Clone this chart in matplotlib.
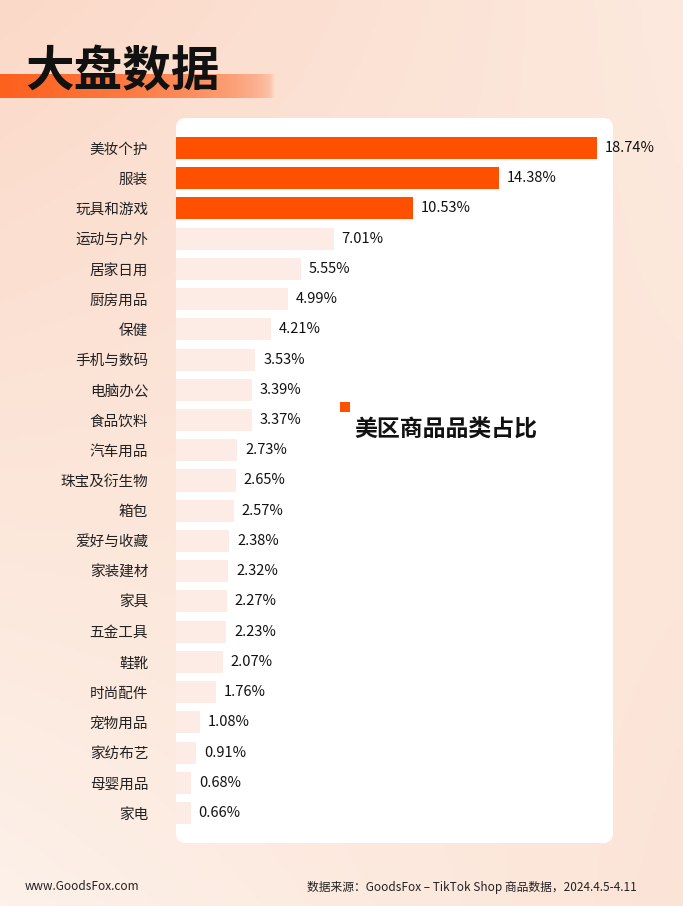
import numpy as np
import matplotlib.pyplot as plt
from matplotlib.patches import FancyBboxPatch, Rectangle
from matplotlib.colors import LinearSegmentedColormap

plt.rcParams['font.family'] = ['Noto Sans CJK SC', 'DejaVu Sans']

categories = ['美妆个护', '服装', '玩具和游戏', '运动与户外', '居家日用', '厨房用品', '保健',
              '手机与数码', '电脑办公', '食品饮料', '汽车用品', '珠宝及衍生物', '箱包',
              '爱好与收藏', '家装建材', '家具', '五金工具', '鞋靴', '时尚配件', '宠物用品',
              '家纺布艺', '母婴用品', '家电']
values = [18.74, 14.38, 10.53, 7.01, 5.55, 4.99, 4.21, 3.53, 3.39, 3.37, 2.73, 2.65, 2.57,
          2.38, 2.32, 2.27, 2.23, 2.07, 1.76, 1.08, 0.91, 0.68, 0.66]

W, H = 683, 906
fig = plt.figure(figsize=(W / 100, H / 100), dpi=100)

# background gradient
bg = fig.add_axes([0, 0, 1, 1])
bg.set_axis_off()
yy, xx = np.mgrid[0:1:200j, 0:1:200j]
g = np.clip(0.6 * (1 - xx) * yy + 0.5 * xx * (1 - yy) + 0.3 * yy, 0, 1)
cmap = LinearSegmentedColormap.from_list('bg', ['#fdf1e9', '#fbd9c8'])
bg.imshow(g, cmap=cmap, extent=[0, W, 0, H], aspect='auto', origin='upper')
bg.set_xlim(0, W)
bg.set_ylim(H, 0)

# title band
band = np.linspace(1, 0, 100).reshape(1, -1)
ocmap = LinearSegmentedColormap.from_list('o', ['#fbd9c8', '#ff5a14'])
bg.imshow(band ** 0.4, cmap=ocmap, extent=[0, 275, 98, 74], aspect='auto', alpha=0.95)
bg.set_xlim(0, W)
bg.set_ylim(H, 0)
bg.text(25, 72, '大盘数据', fontsize=35, fontweight='bold', color='#111111', va='center')

# white panel
bg.add_patch(FancyBboxPatch((176, 118), 437, 725, boxstyle='round,pad=0,rounding_size=10',
                            fc='white', ec='none'))

# legend
bg.add_patch(Rectangle((340, 402), 10, 10, fc='#ff5000', ec='none'))
bg.text(354, 430, '美区商品品类占比', fontsize=16.5, fontweight='bold', color='#111111', va='center')

# footer
bg.text(25, 887, 'www.GoodsFox.com', fontsize=8.5, color='#222222', va='center')
bg.text(637, 887, '数据来源：GoodsFox – TikTok Shop 商品数据，2024.4.5-4.11', fontsize=8.5,
        color='#222222', va='center', ha='right')

# chart
ax = fig.add_axes([176 / W, 1 - 843 / H, 437 / W, 725 / H])
ax.patch.set_alpha(0)
colors = ['#ff5000' if i < 3 else '#fdebe5' for i in range(len(values))]
ypos = np.arange(len(values))
ax.barh(ypos, values, height=0.73, color=colors)
ax.set_xlim(0, 437 / 22.47)
ax.set_ylim(len(values) - 1 + 0.99, -0.99)
for y, v in zip(ypos, values):
    ax.text(v + 0.35, y, f'{v:.2f}%', va='center', fontsize=10.5, color='#111111')
ax.set_yticks(ypos)
ax.set_yticklabels(categories, fontsize=10.5, color='#222222')
ax.tick_params(axis='y', length=0, pad=20)
ax.set_xticks([])
for s in ax.spines.values():
    s.set_visible(False)

fig.savefig('out.png', dpi=100)
